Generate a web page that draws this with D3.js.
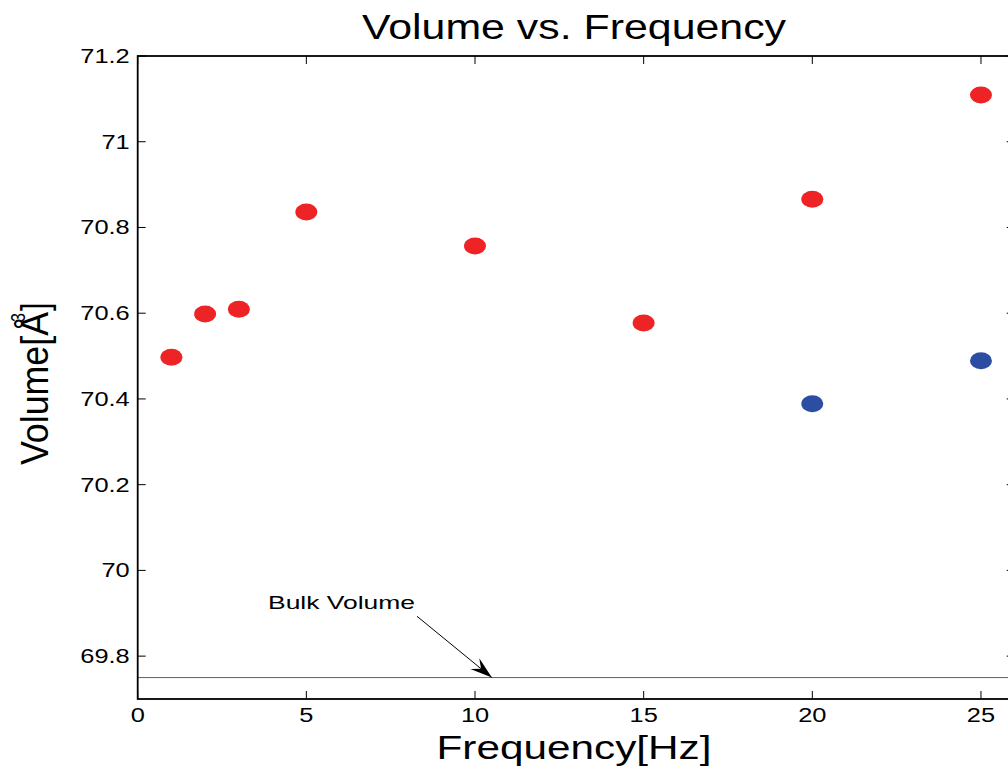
<!DOCTYPE html>
<html>
<head>
<meta charset="utf-8">
<script src="https://cdn.jsdelivr.net/npm/d3@7"></script>
<style>
  html, body { margin: 0; padding: 0; background: #fff; }
  svg { display: block; font-family: Arial, "Liberation Sans", sans-serif; }
</style>
</head>
<body>
<script>
// Measured volumes per driving frequency
const redFreq = [1, 2, 3, 5, 10, 15, 20, 25];
const redVolume = [70.497, 70.598, 70.609, 70.836, 70.757, 70.577, 70.866, 71.109];
const blueFreq = [20, 25];
const blueVolume = [70.389, 70.489];
const bulkVolume = 69.75;
const xTicks = [0, 5, 10, 15, 20, 25];
const yTicks = [69.8, 70, 70.2, 70.4, 70.6, 70.8, 71, 71.2];
const xDomain = [0, 26];
const yDomain = [69.7, 71.2];
const arrowFrom = [8.28, 69.893];
const arrowTo = [10.5, 69.75];
const titleText = "Volume vs. Frequency";
const xLabelText = "Frequency[Hz]";
const annotationText = "Bulk Volume";

const W = 1008, H = 767;
const plot = { left: 137.7, top: 56, right: 1014.7, bottom: 699 };
const stretch = 1.27; // horizontal glyph stretch

const svg = d3.select("body").append("svg")
  .attr("width", W).attr("height", H);

const x = d3.scaleLinear().domain(xDomain).range([plot.left, plot.right]);
const y = d3.scaleLinear().domain(yDomain).range([plot.bottom, plot.top]);

// Bulk reference line
svg.append("line")
  .attr("x1", x(xDomain[0])).attr("x2", x(xDomain[1]))
  .attr("y1", y(bulkVolume)).attr("y2", y(bulkVolume))
  .attr("stroke", "#4a5f9e").attr("stroke-width", 1);

// Axes box with inward ticks
const tickLen = 8;
const axisG = svg.append("g").attr("stroke", "#000").attr("fill", "none");
axisG.append("rect")
  .attr("x", plot.left).attr("y", plot.top)
  .attr("width", plot.right - plot.left).attr("height", plot.bottom - plot.top)
  .attr("stroke-width", 1.8);

xTicks.forEach(t => {
  axisG.append("line").attr("x1", x(t)).attr("x2", x(t))
    .attr("y1", plot.bottom).attr("y2", plot.bottom - tickLen).attr("stroke-width", 1);
  axisG.append("line").attr("x1", x(t)).attr("x2", x(t))
    .attr("y1", plot.top).attr("y2", plot.top + tickLen).attr("stroke-width", 1);
});
yTicks.forEach(t => {
  axisG.append("line").attr("y1", y(t)).attr("y2", y(t))
    .attr("x1", plot.left).attr("x2", plot.left + tickLen).attr("stroke-width", 1);
  axisG.append("line").attr("y1", y(t)).attr("y2", y(t))
    .attr("x1", plot.right).attr("x2", plot.right - tickLen).attr("stroke-width", 1);
});

// Tick labels
const fmt = d => String(+d.toFixed(1));
svg.append("g").selectAll("text").data(xTicks).join("text")
  .attr("transform", d => `translate(${x(d)},${plot.bottom + 23}) scale(${stretch},1)`)
  .attr("text-anchor", "middle").attr("font-size", 20).attr("fill", "#000")
  .text(fmt);
svg.append("g").selectAll("text").data(yTicks).join("text")
  .attr("transform", d => `translate(${plot.left - 8},${y(d) + 7}) scale(${stretch},1)`)
  .attr("text-anchor", "end").attr("font-size", 20).attr("fill", "#000")
  .text(fmt);

// Data markers
function dots(xs, ys, color) {
  svg.append("g").selectAll("ellipse").data(xs.map((v, i) => [v, ys[i]])).join("ellipse")
    .attr("cx", d => x(d[0])).attr("cy", d => y(d[1]))
    .attr("rx", 11).attr("ry", 8.5)
    .attr("fill", color);
}
dots(redFreq, redVolume, "#ee2326");
dots(blueFreq, blueVolume, "#2c4ea2");

// Annotation arrow
const ax1 = x(arrowFrom[0]), ay1 = y(arrowFrom[1]);
const ax2 = x(arrowTo[0]), ay2 = y(arrowTo[1]);
svg.append("line")
  .attr("x1", ax1).attr("y1", ay1).attr("x2", ax2).attr("y2", ay2)
  .attr("stroke", "#000").attr("stroke-width", 1);
{
  const ang = Math.atan2(ay2 - ay1, ax2 - ax1);
  const L = 22, hw = 7, notch = 14;
  const ux = Math.cos(ang), uy = Math.sin(ang);
  const px = -uy, py = ux;
  const bx = ax2 - ux * L, by = ay2 - uy * L;
  const nx = ax2 - ux * notch, ny = ay2 - uy * notch;
  const pts = [
    [ax2, ay2],
    [bx + px * hw, by + py * hw],
    [nx, ny],
    [bx - px * hw, by - py * hw]
  ];
  svg.append("path").attr("d", d3.line()(pts) + "Z").attr("fill", "#000");
}
svg.append("text")
  .attr("x", 268).attr("y", 609)
  .attr("font-size", 19).attr("fill", "#000")
  .attr("textLength", 147).attr("lengthAdjust", "spacingAndGlyphs")
  .text(annotationText);

// Title and axis labels
svg.append("text")
  .attr("x", 574).attr("y", 39)
  .attr("text-anchor", "middle").attr("font-size", 35).attr("fill", "#000")
  .attr("textLength", 424).attr("lengthAdjust", "spacingAndGlyphs")
  .text(titleText);

svg.append("text")
  .attr("x", 574).attr("y", 759)
  .attr("text-anchor", "middle").attr("font-size", 33).attr("fill", "#000")
  .attr("textLength", 275).attr("lengthAdjust", "spacingAndGlyphs")
  .text(xLabelText);

// Rotated y label: local x runs upward along the text
const yLab = svg.append("g")
  .attr("transform", `translate(48,465) scale(${stretch},1) rotate(-90)`)
  .attr("fill", "#000");
yLab.append("text")
  .attr("x", 0).attr("y", 0).attr("font-size", 30)
  .attr("textLength", 153).attr("lengthAdjust", "spacingAndGlyphs")
  .text("Volume[Å");
yLab.append("text")
  .attr("x", 143).attr("y", -18).attr("font-size", 16)
  .text("3");
yLab.append("text")
  .attr("x", 154).attr("y", 0).attr("font-size", 30)
  .text("]");
</script>
</body>
</html>
